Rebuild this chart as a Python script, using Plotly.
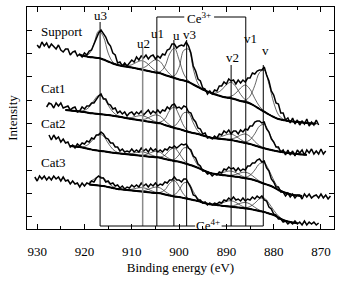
import numpy as np
import plotly.graph_objects as go

# ---------------- data ----------------
peak_names = ["u3", "u2", "u1", "u", "v3", "v2", "v1", "v"]
peak_energy = [916.7, 907.7, 904.7, 901.1, 898.4, 889.0, 885.9, 882.2]

sample_names = ["Support", "Cat1", "Cat2", "Cat3"]

# measured spectra (offset intensity, a.u.), 0.5 eV steps from the start energy downwards
support_start = 930.0
support_counts = [
    184, 181, 187, 183, 186, 181, 185, 182, 180, 184, 179, 177, 180, 180, 174, 177, 178, 173, 175, 172,
    176, 174, 178, 179, 185, 190, 196, 199, 195, 192, 186, 183, 176, 174, 166, 167, 163, 166, 163, 166,
    169, 167, 172, 169, 173, 171, 174, 170, 173, 174, 170, 173, 171, 175, 174, 179, 180, 185, 185, 181,
    183, 184, 183, 187, 183, 176, 163, 158, 150, 148, 141, 140, 135, 138, 135, 139, 138, 143, 143, 147,
    145, 150, 148, 149, 145, 149, 146, 149, 147, 151, 151, 156, 155, 158, 159, 159, 162, 154, 148, 138,
    134, 126, 125, 116, 116, 109, 111, 106, 111, 105, 109, 104, 108, 105, 110, 103, 107, 104, 109, 104,
]
cat1_start = 928.0
cat1_counts = [
    122, 126, 125, 121, 126, 123, 126, 121, 122, 123, 119, 121, 122, 117, 118, 122, 120, 123, 123, 126,
    126, 130, 133, 135, 130, 130, 125, 124, 120, 121, 116, 118, 115, 117, 113, 116, 117, 114, 117, 115,
    118, 114, 117, 119, 115, 118, 116, 119, 116, 119, 118, 122, 120, 124, 125, 121, 122, 120, 123, 122,
    117, 116, 110, 107, 101, 100, 95, 96, 91, 92, 90, 93, 91, 95, 94, 98, 96, 99, 95, 98,
    98, 95, 99, 97, 100, 99, 103, 103, 107, 108, 108, 106, 107, 100, 97, 90, 87, 82, 82, 77,
    79, 74, 79, 74, 78, 73, 79, 76, 79, 74, 79, 76, 80, 75, 78, 75, 80, 75, 78,
]
cat2_start = 927.5
cat2_counts = [
    94, 89, 94, 90, 92, 87, 90, 86, 87, 82, 84, 81, 85, 83, 86, 85, 88, 87, 91, 90,
    94, 94, 97, 95, 91, 90, 86, 86, 82, 82, 78, 80, 77, 78, 77, 80, 77, 79, 77, 81,
    78, 80, 77, 81, 78, 80, 77, 79, 77, 80, 79, 82, 81, 83, 81, 83, 85, 84, 85, 81,
    79, 73, 71, 65, 63, 58, 58, 55, 56, 53, 55, 54, 57, 56, 60, 59, 62, 60, 61, 58,
    61, 58, 60, 59, 63, 63, 66, 66, 69, 70, 67, 68, 61, 58, 50, 47, 42, 42, 37, 37,
    33, 36, 32, 35, 31, 34, 34, 30, 35, 32, 35, 31, 33, 34, 31, 35, 31, 34, 30, 33,
]
cat3_start = 930.5
cat3_counts = [
    52, 48, 53, 50, 53, 49, 52, 49, 53, 50, 52, 48, 52, 48, 49, 45, 48, 45, 46, 42,
    46, 43, 46, 45, 48, 47, 51, 53, 51, 51, 47, 48, 45, 46, 43, 44, 41, 43, 40, 42,
    41, 44, 42, 44, 42, 46, 43, 45, 42, 45, 43, 46, 43, 45, 44, 47, 46, 49, 49, 52,
    49, 49, 47, 50, 50, 46, 41, 34, 33, 29, 29, 26, 27, 24, 26, 24, 26, 25, 27, 26,
    29, 28, 31, 29, 32, 29, 30, 28, 31, 28, 30, 29, 32, 30, 33, 31, 33, 29, 28, 22,
    20, 15, 14, 10, 10, 7, 8, 5, 7, 5, 8, 5, 7, 4, 8, 4, 7, 5, 7, 4, 6,
]

# fitted (Shirley-type) backgrounds, 1 eV steps from the start energy downwards
support_bg_start = 921.0
support_bg = [
    174, 173, 172, 171.5, 171, 169.5, 167.5, 165.5, 164, 163, 162.3, 161.5, 160.5, 159.5, 158.5, 157.5,
    156.5, 155.7, 154, 152.5, 151, 149.5, 148.5, 147, 144.5, 142, 139.5, 137.5, 135.5, 134, 132.5, 131.5,
    130.7, 129.5, 128, 127, 125.5, 123, 120, 117.3, 114.5, 112, 110, 109, 108, 107.5, 107, 106.5, 106,
    105.5, 105.5,
]
cat1_bg_start = 924.0
cat1_bg = [
    119, 118.5, 118, 117.5, 117, 116, 115.5, 115, 114.5, 114, 113.3, 112.5, 111.7, 110.7, 110, 109.3,
    108.5, 107.7, 107, 106.3, 105.7, 104, 102.5, 101, 100, 98.5, 97, 96, 95, 93.5, 92.3, 91, 90.5,
    90, 89.5, 89, 88, 87, 86, 85, 83.5, 82, 80.7, 79.5, 78.5, 77.5, 76.7, 76, 75.5, 75, 74.5, 74.3,
]
cat2_bg_start = 923.0
cat2_bg = [
    83, 82.5, 82, 81, 80, 79, 78.3, 77.7, 77, 76.3, 75.7, 75.2, 74.7, 74.2, 73.7, 73.2, 72.7, 72.2,
    71.8, 71.3, 70, 69, 68, 67.3, 66, 64.5, 63, 61.2, 59, 57, 55.5, 54.7, 54, 53.5, 53, 52.3, 51.6,
    50.8, 50, 48.7, 47, 45.3, 43.7, 41.7, 39, 37, 35.5, 34, 33.5, 33,
]
cat3_bg_start = 919.0
cat3_bg = [
    44.5, 44, 43.5, 43, 42, 41, 40, 39.5, 39, 38.5, 38, 37.5, 37, 36.5, 36, 35.7, 34.5, 33.5, 32.5,
    32, 31, 30, 29, 28, 26.5, 25.3, 24.5, 24, 23.3, 22.8, 22.3, 21.8, 21.2, 20.6, 20, 19, 18, 17,
    15.5, 14, 11.5, 9, 7.5, 6.5, 6,
]

# fitted component heights above background and widths (eV), in peak_names order
support_heights = [28, 9, 13, 30, 35, 16, 17, 42]
support_sigmas = [1.1, 1.5, 1.5, 1.2, 1.1, 1.5, 1.5, 1.5]
cat1_heights = [19, 5, 8, 21, 20, 6, 9, 24]
cat1_sigmas = [1.5, 1.5, 1.5, 1.2, 1.2, 1.5, 1.5, 1.5]
cat2_heights = [17, 4, 6, 13, 17, 5, 6, 21]
cat2_sigmas = [1.5, 1.5, 1.5, 1.2, 1.2, 1.5, 1.5, 1.5]
cat3_heights = [9, 4, 6, 16, 17, 6, 6, 14]
cat3_sigmas = [1.4, 1.5, 1.5, 1.2, 1.2, 1.5, 1.5, 1.5]

x_tick_values = [930, 920, 910, 900, 890, 880, 870]

# ---------------- figure ----------------
FONT = "Liberation Serif, Times New Roman, DejaVu Serif, serif"
TXT = dict(family=FONT, size=13, color="black")
fig = go.Figure()

spectra = [
    (support_start, support_counts, support_bg_start, support_bg, support_heights, support_sigmas),
    (cat1_start, cat1_counts, cat1_bg_start, cat1_bg, cat1_heights, cat1_sigmas),
    (cat2_start, cat2_counts, cat2_bg_start, cat2_bg, cat2_heights, cat2_sigmas),
    (cat3_start, cat3_counts, cat3_bg_start, cat3_bg, cat3_heights, cat3_sigmas),
]

for name, (s0, counts, b0, bg, hts, sig) in zip(sample_names, spectra):
    e = s0 - 0.5 * np.arange(len(counts))
    eb = b0 - 1.0 * np.arange(len(bg))
    bgv = np.array(bg, dtype=float)
    for pn, c, h, s in zip(peak_names, peak_energy, hts, sig):
        comp = bgv + h * np.exp(-((eb - c) ** 2) / (2 * s * s))
        fig.add_trace(go.Scatter(x=eb, y=comp, mode="lines", line=dict(color="#222", width=0.7, shape="spline"),
                                 hoverinfo="skip", showlegend=False, name=f"{name} {pn}"))
    fig.add_trace(go.Scatter(x=eb, y=bgv, mode="lines", line=dict(color="black", width=2, shape="spline"),
                             showlegend=False, name=f"{name} background"))
    fig.add_trace(go.Scatter(x=e, y=counts, mode="lines", line=dict(color="black", width=1.5),
                             showlegend=False, name=name))

# peak marker lines
line_top = {"u3": 207, "u2": 181, "u1": 212, "u": 189, "v3": 189, "v2": 164, "v1": 212, "v": 164}
bottom = 3
shapes = []
for pn, c in zip(peak_names, peak_energy):
    col = "#8a8a8a" if pn == "u2" else "black"
    wid = 1.5 if pn == "u2" else 1
    shapes.append(dict(type="line", xref="x", yref="y", x0=c, x1=c, y0=bottom, y1=line_top[pn],
                       line=dict(color=col, width=wid)))
pe = dict(zip(peak_names, peak_energy))
# Ce3+ bracket (top) and Ce4+ bracket (bottom), with gaps for their labels
shapes += [
    dict(type="line", xref="x", yref="y", x0=pe["u1"], x1=898.9, y0=212, y1=212, line=dict(color="black", width=1)),
    dict(type="line", xref="x", yref="y", x0=892.6, x1=pe["v1"], y0=212, y1=212, line=dict(color="black", width=1)),
    dict(type="line", xref="x", yref="y", x0=pe["u3"], x1=896.6, y0=bottom, y1=bottom, line=dict(color="black", width=1)),
    dict(type="line", xref="x", yref="y", x0=891.0, x1=pe["v"], y0=bottom, y1=bottom, line=dict(color="black", width=1)),
]

label_pos = {"u3": (916.7, 214), "u2": (907.6, 186), "u1": (904.6, 196), "u": (900.6, 194),
             "v3": (897.7, 194.7), "v2": (888.7, 171.7), "v1": (885.0, 190.7), "v": (881.8, 178.3)}
annotations = []
for pn in peak_names:
    x, y = label_pos[pn]
    annotations.append(dict(x=x, y=y, xref="x", yref="y", text=pn, showarrow=False, font=TXT,
                            xanchor="center", yanchor="middle"))
annotations.append(dict(x=895.8, y=211, xref="x", yref="y", text="Ce<sup>3+</sup>", showarrow=False,
                        font=TXT, xanchor="center", yanchor="middle"))
annotations.append(dict(x=893.8, y=4, xref="x", yref="y", text="Ce<sup>4+</sup>", showarrow=False,
                        font=TXT, xanchor="center", yanchor="middle"))
sample_label_y = {"Support": 198, "Cat1": 141, "Cat2": 105.7, "Cat3": 66.7}
for nm in sample_names:
    annotations.append(dict(x=929.6, y=sample_label_y[nm], xref="x", yref="y", text=nm, showarrow=False,
                            font=TXT, xanchor="left", yanchor="middle"))

fig.update_layout(
    width=343, height=282,
    margin=dict(l=27, r=9, t=7, b=53, autoexpand=False),
    paper_bgcolor="white", plot_bgcolor="white",
    font=TXT,
    shapes=shapes, annotations=annotations,
    xaxis=dict(range=[932.15, 867.25], tickvals=x_tick_values, ticks="inside", ticklen=5, tickwidth=1,
               tickcolor="black", showline=True, linecolor="black", linewidth=1, mirror="ticks",
               showgrid=False, zeroline=False, automargin=False, ticklabelstandoff=10,
               minor=dict(dtick=5, tick0=930, ticks="inside", ticklen=3, tickcolor="black", showgrid=False),
               tickfont=TXT,
               title=dict(text="Binding energy (eV)", font=TXT, standoff=5)),
    yaxis=dict(range=[0, 222], tick0=12.3, dtick=23.33, ticks="inside", ticklen=5, tickwidth=1,
               tickcolor="black", showticklabels=False, showline=True, linecolor="black", linewidth=1,
               mirror="ticks", showgrid=False, zeroline=False, automargin=False,
               minor=dict(ticks="inside", ticklen=3, tickcolor="black", nticks=2, showgrid=False),
               title=dict(text="Intensity", font=TXT, standoff=5)),
)

fig.write_html("out.html", config={"displayModeBar": False},
               post_script="document.body.style.margin='0';document.body.style.padding='0';")
